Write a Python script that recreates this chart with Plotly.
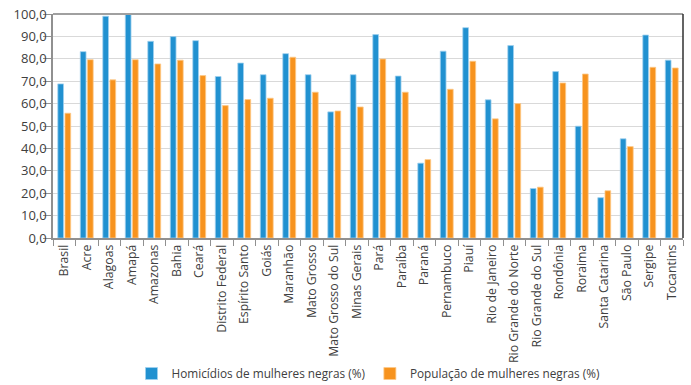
import plotly.graph_objects as go

categories = ["Brasil", "Acre", "Alagoas", "Amapá", "Amazonas", "Bahia", "Ceará",
              "Distrito Federal", "Espírito Santo", "Goiás", "Maranhão", "Mato Grosso",
              "Mato Grosso do Sul", "Minas Gerais", "Pará", "Paraíba", "Paraná",
              "Pernambuco", "Piauí", "Rio de Janeiro", "Rio Grande do Norte",
              "Rio Grande do Sul", "Rondônia", "Roraima", "Santa Catarina",
              "São Paulo", "Sergipe", "Tocantins"]

homicidios = [68.8, 83.2, 99.0, 100.0, 87.8, 89.9, 88.1, 72.1, 78.1, 72.9, 82.3, 72.9,
              56.3, 72.9, 90.8, 72.3, 33.4, 83.4, 93.9, 61.7, 85.9, 22.1, 74.3, 49.9,
              18.0, 44.3, 90.6, 79.4]

populacao = [55.7, 79.6, 70.6, 79.6, 77.7, 79.4, 72.5, 59.1, 61.8, 62.4, 80.7, 65.1,
             56.7, 58.5, 79.9, 65.1, 35.0, 66.4, 78.9, 53.2, 60.0, 22.7, 69.2, 73.2,
             21.1, 40.8, 76.2, 75.9]

y_ticks = [0, 10, 20, 30, 40, 50, 60, 70, 80, 90, 100]

fig = go.Figure()
fig.add_trace(go.Bar(
    x=categories, y=homicidios, name="Homicídios de mulheres negras (%)",
    marker=dict(color="#2191d0", line=dict(color="#9fd0ef", width=0.8)),
))
fig.add_trace(go.Bar(
    x=categories, y=populacao, name="População de mulheres negras (%)",
    marker=dict(color="#f7931e", line=dict(color="#fcc98a", width=0.8)),
))

font_family = "Open Sans, Noto Sans, sans-serif"

fig.update_layout(
    width=691, height=385,
    margin=dict(l=53, r=8, t=14, b=147, autoexpand=False),
    paper_bgcolor="white", plot_bgcolor="white",
    barmode="group", bargap=0.364, bargroupgap=0.2,
    separators=", ",
    font=dict(family=font_family, size=13, color="#404040"),
    showlegend=True,
    legend=dict(orientation="h", x=0.5, xanchor="center", y=-0.605, yanchor="middle",
                font=dict(size=11.8, color="#404040"), itemwidth=30,
                bgcolor="rgba(0,0,0,0)", traceorder="normal"),
    xaxis=dict(
        type="category", tickangle=-90, tickson="boundaries",
        ticks="outside", ticklen=6, tickcolor="#909090",
        showline=True, linecolor="#909090", linewidth=1.5,
        showgrid=False, tickfont=dict(size=12.3, color="#404040"),
        automargin=False,
    ),
    yaxis=dict(
        range=[0, 100], tickvals=y_ticks, tickformat=".1f",
        ticks="outside", ticklen=8, tickcolor="#909090",
        showline=True, linecolor="#909090", linewidth=1.5,
        showgrid=True, gridcolor="#d9d9d9", gridwidth=1.2,
        zeroline=False, tickfont=dict(size=13, color="#404040"),
        ticklabelstandoff=-6, ticklabeloverflow="allow", automargin=False,
    ),
    shapes=[
        dict(type="line", xref="paper", yref="paper", x0=0, x1=1, y0=1, y1=1,
             line=dict(color="#a0a0a0", width=2)),
        dict(type="line", xref="paper", yref="paper", x0=1, x1=1, y0=0, y1=1,
             line=dict(color="#303030", width=1.5)),
    ],
)

# remove the browser's default 8px body margin so the figure fills the window
fig.write_html("out.html", config={"displayModeBar": False},
               post_script="document.body.style.margin='0';")
